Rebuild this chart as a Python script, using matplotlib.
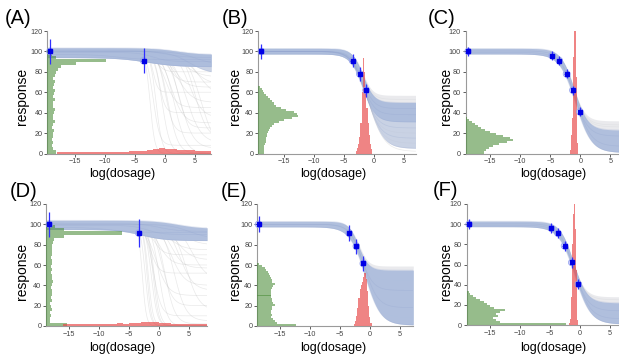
import numpy as np
import matplotlib.pyplot as plt

plt.rcParams['font.family'] = ['Liberation Sans', 'DejaVu Sans']

# ---- data ----
panel_names = ['(A)', '(B)', '(C)', '(D)', '(E)', '(F)']

# observed points: log(dosage), response, error
a_x = [-19.2, -3.6]
a_y = [100, 91]
a_err = [12.5, 12.5]
b_x = [-18.7, -3.5, -2.3, -1.25]
b_y = [100, 91, 78, 62]
b_err = [7, 6.5, 6.5, 6.5]
c_x = [-18.7, -4.7, -3.5, -2.3, -1.25, -0.1]
c_y = [100, 96, 91, 78, 62, 41]
c_err = [4.5, 4.5, 4.5, 4.5, 4.5, 4.5]
d_x = [-18.3, -3.4]
d_y = [100, 91.5]
d_err = [12.5, 14]
e_x = [-18.6, -3.5, -2.3, -1.15]
e_y = [100, 91.5, 78.5, 61.5]
e_err = [8, 7.5, 7.5, 7.5]
f_x = [-18.4, -4.7, -3.6, -2.5, -1.3, -0.2]
f_y = [100, 96, 91, 78.5, 62, 40.5]
f_err = [5, 5, 5, 5, 5, 5]

# posterior curves: (top, bottom, ec50, slope)
# core = dense blue band, outer = lighter blue, haze = faint grey fringe, gray = single faint curves
a_core = [(103.5, 97, 2.0, 0.5), (101, 94, 0.0, 0.6), (99, 90, -2.0, 0.8),
          (94, 85, -3.0, 0.4), (97, 92, -8.0, 0.5), (100, 87, 5.0, 0.6)]
a_outer = [(100, 78, 4.0, 0.6)]
a_haze = []
a_gray = [(100, 0, -2.5, 2.5), (100, 0, -1.5, 2.0), (100, 0, -0.5, 1.5),
          (100, 0, 0.5, 1.2), (100, 0, 1.5, 1.0), (100, 5, 2.5, 0.9),
          (100, 10, 3.5, 0.8), (100, 20, 0.0, 1.5), (100, 30, 1.0, 1.0),
          (100, 40, -1.0, 2.0), (100, 50, 2.0, 0.8), (100, 60, -2.0, 2.5),
          (100, 70, 0.5, 1.2), (100, 75, 3.0, 0.7), (100, 80, -1.5, 1.5),
          (100, 15, 5.0, 1.0), (100, 2, 6.0, 0.8), (100, 35, 4.0, 0.9),
          (100, 55, 5.5, 0.7), (100, 65, 1.5, 1.0), (100, 25, 2.0, 1.3),
          (100, 45, 0.0, 1.1), (100, 8, -2.0, 1.8), (100, 68, 4.5, 0.8)]
b_core = [(103, 50, -1.77, 1.1), (100, 44, -1.85, 1.05), (100, 38, -1.85, 1.0),
          (97.5, 31, -1.8, 0.95)]
b_outer = [(100, 25, -1.58, 0.9), (100, 15, -1.22, 0.85), (100, 5, -0.9, 0.8)]
b_haze = [(100, 57, -1.74, 1.3)]
b_gray = [(100, 2, -0.85, 0.75), (100, 10, -1.05, 0.82), (100, 20, -1.4, 0.88),
          (100, 53, -1.76, 1.2)]
c_core = [(103, 23, -1.03, 0.9), (100.5, 17, -1.07, 0.86), (99, 7, -0.75, 0.79),
          (97.5, 1, -0.82, 0.76)]
c_outer = []
c_haze = [(100, 32, -1.14, 1.05)]
c_gray = [(100, 28, -1.1, 0.98), (100, 26, -1.08, 0.95)]
d_core = [(104, 96, 3.0, 0.5), (101, 93, 0.0, 0.6), (99, 90, -2.0, 0.8),
          (95, 84, -3.0, 0.5), (97, 92, -8.0, 0.5), (100, 86, 5.0, 0.6)]
d_outer = []
d_haze = []
d_gray = [(100, 0, -2.8, 3.0), (100, 0, -2.3, 2.5), (100, 0, -1.8, 2.5),
          (100, 0, -1.3, 2.0), (100, 0, -0.8, 2.0), (100, 0, 0.0, 1.5),
          (100, 2, 1.0, 1.2), (100, 5, 2.5, 1.0), (100, 10, -1.0, 1.5),
          (100, 20, 0.5, 1.2), (100, 30, -0.5, 1.0), (100, 40, 2.0, 0.9),
          (100, 60, 0.0, 1.0), (100, 65, 3.0, 0.8), (100, 70, -1.0, 1.2),
          (100, 75, 1.5, 0.8), (100, 80, 4.0, 0.8), (100, 15, 4.5, 0.9),
          (100, 45, 5.5, 0.8), (100, 52, -1.5, 1.5), (100, 0, -2.0, 2.8),
          (100, 0, -1.0, 2.2), (100, 57, 2.0, 1.0), (100, 35, 3.5, 0.9)]
e_core = [(103, 55, -1.95, 1.2), (100, 35, -1.49, 1.0), (100, 18, -0.98, 0.88),
          (97.5, 1, -0.84, 0.78)]
e_outer = []
e_haze = [(100, 59, -1.81, 1.35)]
e_gray = [(100, 45, -1.7, 1.1), (100, 8, -0.9, 0.82)]
f_core = [(103, 22, -1.03, 0.9), (100.5, 14, -1.0, 0.85), (99, 6, -0.76, 0.79),
          (97.5, 1, -0.82, 0.76)]
f_outer = []
f_haze = [(100, 28, -1.12, 1.0)]
f_gray = [(100, 25, -1.08, 0.96), (100, 10, -0.9, 0.82)]

# green histograms (bottom parameter), bar lengths in x units from the left edge
a_green_y0, a_green_dy = 0, 3
a_green = [1.5, 0.9, 0.8, 1.0, 0.8, 1.0, 0.9, 1.1, 0.8, 1.0, 1.2, 0.9, 1.0, 1.1,
           1.3, 1.0, 0.9, 1.2, 1.0, 1.1, 1.3, 1.0, 1.1, 1.2, 1.0, 1.3, 1.4, 1.8,
           2.2, 4.8, 9.8, 1.4, 0.8, 0.3]
b_green_y0, b_green_dy = 0, 2
b_green = [0.9, 0.9, 1.0, 1.0, 1.1, 1.2, 1.2, 1.3, 1.4, 1.5, 1.6, 1.8, 2.0, 2.3,
           2.6, 3.4, 4.2, 5.6, 6.6, 6.4, 6.0, 4.6, 3.8, 3.0, 2.6, 2.2, 1.9, 1.6,
           1.3, 1.0, 0.8, 0.6, 0.3]
c_green_y0, c_green_dy = 0, 2
c_green = [3.0, 3.3, 3.8, 4.5, 5.5, 6.8, 7.9, 7.3, 6.2, 5.0, 4.0, 3.2, 2.6, 2.0,
           1.5, 1.0, 0.6, 0.2]
d_green_y0, d_green_dy = 0, 3
d_green = [3.5, 0.7, 0.6, 0.8, 0.7, 0.9, 0.8, 0.7, 0.9, 0.8, 1.0, 0.9, 0.8, 0.9,
           1.2, 1.0, 0.9, 0.8, 0.9, 0.8, 1.0, 0.9, 0.8, 0.9, 1.0, 0.9, 1.0, 1.1,
           1.3, 3.0, 12.7, 3.0, 1.5, 0.4]
e_green_y0, e_green_dy = 0, 2
e_green = [6.5, 3.2, 3.0, 2.6, 2.2, 2.4, 2.3, 2.3, 2.4, 2.5, 3.0, 2.6, 2.4, 2.4,
           2.3, 2.2, 2.3, 2.3, 2.4, 2.6, 2.9, 2.5, 2.4, 2.2, 2.1, 2.0, 1.8, 1.5,
           1.2, 0.8, 0.3]
f_green_y0, f_green_dy = 0, 2
f_green = [16.5, 5.5, 4.8, 4.3, 5.2, 4.9, 5.6, 6.3, 4.6, 3.8, 3.4, 2.8, 2.2, 1.6,
           1.1, 0.6, 0.3]

# red histograms (ec50 parameter), heights in response units
a_red_x0, a_red_dx = -18, 1
a_red = [1.0, 1.2, 1.2, 1.3, 1.3, 1.4, 1.4, 1.5, 1.5, 1.6, 1.7, 1.8, 2.0, 2.2,
         2.6, 3.2, 4.2, 5.2, 4.8, 4.0, 3.5, 3.2, 3.0, 2.8, 2.6, 2.4]
b_red_x0, b_red_dx = -3.0, 0.2
b_red = [2, 5, 9, 16, 30, 60, 94, 80, 62, 45, 30, 18, 9, 4]
c_red_x0, c_red_dx = -1.7, 0.1
c_red = [3, 8, 18, 35, 60, 95, 130, 150, 140, 115, 75, 35, 10]
d_red_x0, d_red_dx = -16, 1
d_red = [1.8, 2.0, 2.1, 2.2, 2.0, 2.3, 2.2, 2.4, 2.3, 2.5, 2.4, 2.6, 2.8, 4.0,
         4.3, 4.2, 3.0, 2.5, 2.2, 2.1, 2.0, 2.1, 2.0, 2.0]
e_red_x0, e_red_dx = -2.75, 0.2
e_red = [2, 5, 10, 18, 28, 36, 40, 43, 48, 52, 46, 34, 20, 9, 3]
f_red_x0, f_red_dx = -1.7, 0.1
f_red = [2, 6, 14, 28, 50, 80, 110, 130, 138, 125, 95, 55, 20, 5]

# ---- layout (pixels of a 619x355 canvas) ----
W, H = 619, 355
# left px, px at y=120, px at y=0, xlim
frames = [
    (47.5, 31, 153.5, (-19.6, 7.7)),
    (258.3, 31, 153.5, (-19.2, 7.0)),
    (465.7, 31, 153.5, (-19.1, 7.0)),
    (46.3, 204, 326, (-18.8, 8.0)),
    (257.3, 204, 326, (-18.8, 7.2)),
    (466.7, 204, 325, (-18.8, 7.0)),
]
name_pos = [(5, 19), (222, 19), (428, 19), (10, 192), (221, 192), (433, 191)]
ylab_pos = [(22, 96), (235, 96), (445.5, 96), (22.5, 271), (235, 271), (445.5, 271)]
xlab_pos = [(122, 174), (333, 174), (553, 174), (122, 348), (333, 348), (553, 348)]

panels = [
    dict(x=a_x, y=a_y, err=a_err, core=a_core, outer=a_outer, haze=a_haze, gray=a_gray,
         green=(a_green_y0, a_green_dy, a_green), red=(a_red_x0, a_red_dx, a_red)),
    dict(x=b_x, y=b_y, err=b_err, core=b_core, outer=b_outer, haze=b_haze, gray=b_gray,
         green=(b_green_y0, b_green_dy, b_green), red=(b_red_x0, b_red_dx, b_red)),
    dict(x=c_x, y=c_y, err=c_err, core=c_core, outer=c_outer, haze=c_haze, gray=c_gray,
         green=(c_green_y0, c_green_dy, c_green), red=(c_red_x0, c_red_dx, c_red)),
    dict(x=d_x, y=d_y, err=d_err, core=d_core, outer=d_outer, haze=d_haze, gray=d_gray,
         green=(d_green_y0, d_green_dy, d_green), red=(d_red_x0, d_red_dx, d_red)),
    dict(x=e_x, y=e_y, err=e_err, core=e_core, outer=e_outer, haze=e_haze, gray=e_gray,
         green=(e_green_y0, e_green_dy, e_green), red=(e_red_x0, e_red_dx, e_red)),
    dict(x=f_x, y=f_y, err=f_err, core=f_core, outer=f_outer, haze=f_haze, gray=f_gray,
         green=(f_green_y0, f_green_dy, f_green), red=(f_red_x0, f_red_dx, f_red)),
]

BAND = '#aabbdc'
HAZE = '#dcdde2'
GRAY = '#b8b8b8'
GREEN = '#4a8c38'
RED = '#e84a4a'


def logistic(x, top, bottom, ec50, slope):
    return bottom + (top - bottom) / (1 + np.exp(slope * (x - ec50)))


def envelope(ax, xs, curves, **kw):
    ys = np.array([logistic(xs, *c) for c in curves])
    ax.fill_between(xs, ys.min(axis=0), ys.max(axis=0), lw=0, **kw)


fig = plt.figure(figsize=(W / 100, H / 100), dpi=100)

for i, p in enumerate(panels):
    left, ytop, ybot, xl = frames[i]
    wpx = (xl[1] - xl[0]) * 6.0
    hpx = ybot - ytop
    ax = fig.add_axes([left / W, (H - ybot) / H, wpx / W, hpx / H])
    ax.set_xlim(*xl)
    ax.set_ylim(0, 120)

    xs = np.linspace(xl[0], xl[1], 500)
    for c in p['gray']:
        ax.plot(xs, logistic(xs, *c), color=GRAY, lw=0.5, alpha=0.3, zorder=1)
    allc = p['core'] + p['outer'] + p['haze']
    envelope(ax, xs, allc, color=HAZE, alpha=0.6, zorder=1.5)
    if p['outer']:
        envelope(ax, xs, p['core'] + p['outer'], color=BAND, alpha=0.5, zorder=1.6)
    envelope(ax, xs, p['core'], color=BAND, alpha=0.9, zorder=1.7)
    for c in p['core'] + p['outer']:
        ax.plot(xs, logistic(xs, *c), color='#8c9fcc', lw=0.5, alpha=0.25, zorder=1.8)

    y0, dy, vals = p['green']
    ax.barh([y0 + k * dy for k in range(len(vals))], vals, height=dy,
            left=xl[0], align='edge', color=GREEN, alpha=0.58, lw=0, zorder=3)
    x0, dx, vals = p['red']
    ax.bar([x0 + k * dx for k in range(len(vals))], vals, width=dx,
           align='edge', color=RED, alpha=0.68, lw=0, zorder=3)

    ax.scatter(p['x'], p['y'], s=22, facecolors='none', edgecolors='#98a6f0',
               lw=0.6, zorder=4, clip_on=False)
    ax.errorbar(p['x'], p['y'], yerr=p['err'], xerr=0.35, fmt='s', ms=2.6,
                color='#0000e6', ecolor='#3030ff', elinewidth=0.9, capsize=0,
                zorder=5, clip_on=False)

    ax.set_xticks([-15, -10, -5, 0, 5])
    ax.set_yticks([0, 20, 40, 60, 80, 100, 120])
    ax.tick_params(labelsize=5.2, colors='#444444', length=2, width=0.6, pad=1.5)
    for s in ['top', 'right']:
        ax.spines[s].set_visible(False)
    for s in ['left', 'bottom']:
        ax.spines[s].set_color('#9a9a9a')
        ax.spines[s].set_linewidth(0.8)
    ax.set_facecolor('none')

    lx, ly = ylab_pos[i]
    fig.text(lx / W, 1 - ly / H, 'response', rotation=90, fontsize=10,
             ha='center', va='center')
    lx, ly = xlab_pos[i]
    fig.text(lx / W, 1 - ly / H, 'log(dosage)', fontsize=9, ha='center', va='center')
    lx, ly = name_pos[i]
    fig.text(lx / W, 1 - ly / H, panel_names[i], fontsize=14.5, ha='left', va='center')

fig.savefig('out.png', dpi=100)
